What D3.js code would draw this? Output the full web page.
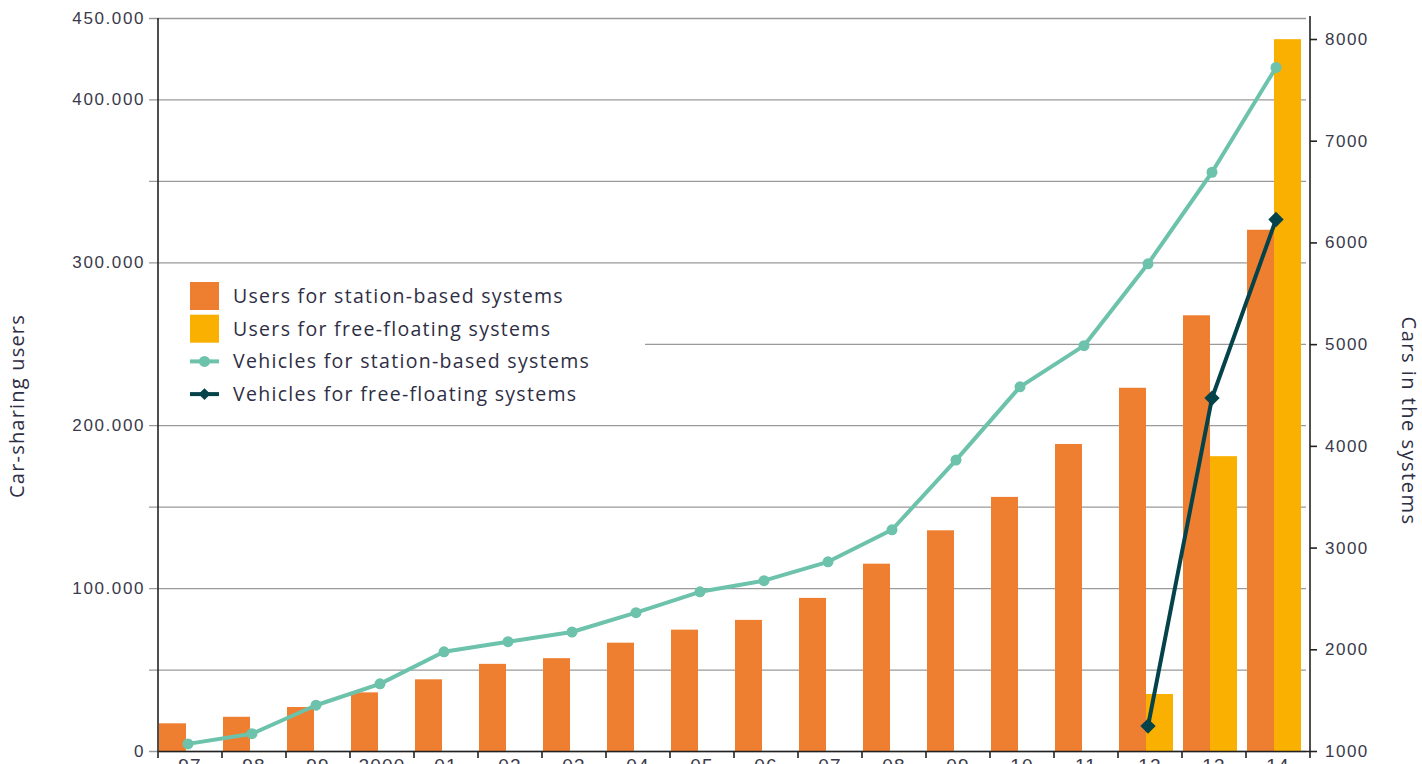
<!DOCTYPE html>
<html>
<head>
<meta charset="utf-8">
<script src="https://cdn.jsdelivr.net/npm/d3@7"></script>
<style>
  body { margin: 0; background: #fff; }
  svg { display: block; font-family: "Open Sans", sans-serif; }
  .axis text { fill: #3a3a4a; }
</style>
</head>
<body>
<svg id="chart"></svg>
<script>
// chart data
const years = ['97', '98', '99', '2000', '01', '02', '03', '04', '05', '06', '07', '08', '09', '10', '11', '12', '13', '14'];
const usersStation = [17000, 21000, 27000, 36000, 44000, 53500, 57000, 66500, 74500, 80500, 94000, 115000, 135500, 156000, 188500, 223000, 267500, 320000];
const usersFree = [null, null, null, null, null, null, null, null, null, null, null, null, null, null, null, 35000, 181000, 437000];
const carsStation = [1070, 1170, 1450, 1660, 1975, 2075, 2170, 2360, 2565, 2675, 2860, 3175, 3860, 4580, 4985, 5790, 6690, 7720];
const carsFree = [null, null, null, null, null, null, null, null, null, null, null, null, null, null, null, 1245, 4470, 6225];
const leftTicks = [0, 50000, 100000, 150000, 200000, 250000, 300000, 350000, 400000, 450000];
const leftLabelled = [0, 100000, 200000, 300000, 400000, 450000];
const rightTicks = [1000, 2000, 3000, 4000, 5000, 6000, 7000, 8000];
const legendItems = [
    {label: 'Users for station-based systems', type: 'bar', color: '#ee7f31'},
    {label: 'Users for free-floating systems', type: 'bar', color: '#f9b000'},
    {label: 'Vehicles for station-based systems', type: 'circle', color: '#6cc2ab'},
    {label: 'Vehicles for free-floating systems', type: 'diamond', color: '#05434a'}
];

const width = 1422, height = 764;
const margin = {top: 18, right: 112, bottom: 13, left: 158};
const innerW = width - margin.left - margin.right;
const innerH = height - margin.top - margin.bottom;

const svg = d3.select('#chart')
    .attr('width', width)
    .attr('height', height);

const chart = svg.append('g')
    .attr('transform', `translate(${margin.left},${margin.top})`);

const xScale = d3.scaleBand()
    .domain(years)
    .range([0, innerW])
    .padding(0);

const yLeft = d3.scaleLinear()
    .domain([0, 450000])
    .range([innerH, 0]);

// right axis: 1000 at bottom, 8000 near top
const yRight = d3.scaleLinear()
    .domain([1000, 8000])
    .range([innerH, 21]);

const dotFormat = d3.formatLocale({decimal: ',', thousands: '.', grouping: [3], currency: ['', '']}).format(',');

// left axis with gridlines
const leftAxis = d3.axisLeft(yLeft)
    .tickValues(leftTicks)
    .tickSize(-(innerW - 4))
    .tickPadding(13)
    .tickFormat(d => leftLabelled.includes(d) ? dotFormat(d) : '');

const leftG = chart.append('g')
    .attr('class', 'axis y-axis')
    .call(leftAxis);
leftG.select('.domain').remove();
leftG.selectAll('.tick line')
    .attr('x1', -9)
    .attr('stroke', '#9a9a9a')
    .attr('stroke-width', 1.3);
leftG.selectAll('.tick text')
    .attr('font-size', 17)
    .attr('letter-spacing', 1.6);

// bars
const barW = 27;
chart.append('g').selectAll('rect.station')
    .data(years)
    .join('rect')
    .attr('class', 'station')
    .attr('x', d => xScale(d) + 1)
    .attr('y', (d, i) => yLeft(usersStation[i]))
    .attr('width', barW)
    .attr('height', (d, i) => innerH - yLeft(usersStation[i]))
    .attr('fill', '#ee7f31');

chart.append('g').selectAll('rect.free')
    .data(years.filter((d, i) => usersFree[i] !== null))
    .join('rect')
    .attr('class', 'free')
    .attr('x', d => xScale(d) + 1 + barW)
    .attr('y', d => yLeft(usersFree[years.indexOf(d)]))
    .attr('width', barW)
    .attr('height', d => innerH - yLeft(usersFree[years.indexOf(d)]))
    .attr('fill', '#f9b000');

// legend box hides part of a gridline
const legend = chart.append('g');
legend.append('rect')
    .attr('x', -9)
    .attr('y', 272 - margin.top)
    .attr('width', 645 - margin.left + 9)
    .attr('height', 140)
    .attr('fill', '#fff');

const legendRow = legend.selectAll('g.item')
    .data(legendItems)
    .join('g')
    .attr('class', 'item')
    .attr('transform', (d, i) => `translate(${190 - margin.left},${282 - margin.top + i * 32.7})`);

legendRow.filter(d => d.type === 'bar')
    .append('rect')
    .attr('width', 29)
    .attr('height', 28)
    .attr('fill', d => d.color);

legendRow.filter(d => d.type !== 'bar')
    .append('line')
    .attr('x1', 0).attr('x2', 29)
    .attr('y1', 14).attr('y2', 14)
    .attr('stroke', d => d.color)
    .attr('stroke-width', 4);

legendRow.filter(d => d.type === 'circle')
    .append('circle')
    .attr('cx', 14.5).attr('cy', 14)
    .attr('r', 5.5)
    .attr('fill', d => d.color);

legendRow.filter(d => d.type === 'diamond')
    .append('path')
    .attr('d', d3.symbol(d3.symbolDiamond2, 90))
    .attr('transform', 'translate(14.5,14)')
    .attr('fill', d => d.color);

legendRow.append('text')
    .attr('x', 43)
    .attr('y', 14)
    .attr('dy', '0.35em')
    .attr('font-size', 19.5)
    .attr('letter-spacing', 1.3)
    .attr('fill', '#2e2e44')
    .text(d => d.label);

// lines
const xCenter = d => xScale(d) + xScale.bandwidth() / 2 - 2;

const lineStation = d3.line()
    .x((d, i) => xCenter(years[i]))
    .y(d => yRight(d));

chart.append('path')
    .datum(carsStation)
    .attr('fill', 'none')
    .attr('stroke', '#6cc2ab')
    .attr('stroke-width', 4)
    .attr('stroke-linejoin', 'round')
    .attr('d', lineStation);

chart.append('g').selectAll('circle')
    .data(carsStation)
    .join('circle')
    .attr('cx', (d, i) => xCenter(years[i]))
    .attr('cy', d => yRight(d))
    .attr('r', 5.5)
    .attr('fill', '#6cc2ab');

const freePts = years.map((y, i) => ({y, v: carsFree[i]})).filter(d => d.v !== null);

chart.append('path')
    .datum(freePts)
    .attr('fill', 'none')
    .attr('stroke', '#05434a')
    .attr('stroke-width', 4)
    .attr('d', d3.line().x(d => xCenter(d.y)).y(d => yRight(d.v)));

chart.append('g').selectAll('path.dia')
    .data(freePts)
    .join('path')
    .attr('class', 'dia')
    .attr('d', d3.symbol(d3.symbolDiamond2, 150))
    .attr('transform', d => `translate(${xCenter(d.y)},${yRight(d.v)})`)
    .attr('fill', '#05434a');

// left axis line
chart.append('line')
    .attr('x1', 0).attr('x2', 0)
    .attr('y1', 0).attr('y2', innerH)
    .attr('stroke', '#222')
    .attr('stroke-width', 1.6);

// bottom axis, labels run off the lower edge as in the source
const xAxis = d3.axisBottom(xScale)
    .tickSize(0)
    .tickPadding(8);
const xG = chart.append('g')
    .attr('class', 'axis x-axis')
    .attr('transform', `translate(0,${innerH})`)
    .call(xAxis);
xG.select('.domain')
    .attr('stroke', '#222')
    .attr('stroke-width', 1.6);
xG.selectAll('.tick text')
    .attr('font-size', 19)
    .attr('letter-spacing', 1.2);
xG.selectAll('line.boundary')
    .data(years.concat(['end']))
    .join('line')
    .attr('class', 'boundary')
    .attr('x1', d => d === 'end' ? innerW : xScale(d))
    .attr('x2', d => d === 'end' ? innerW : xScale(d))
    .attr('y1', 0).attr('y2', 7)
    .attr('stroke', '#222')
    .attr('stroke-width', 1.6);

// right axis
const rightAxis = d3.axisRight(yRight)
    .tickValues(rightTicks)
    .tickSize(7)
    .tickPadding(8)
    .tickFormat(d3.format('d'));
const rightG = chart.append('g')
    .attr('class', 'axis y-axis-right')
    .attr('transform', `translate(${innerW},0)`)
    .call(rightAxis);
rightG.select('.domain')
    .attr('d', `M0,-2V${innerH}`)
    .attr('stroke', '#222')
    .attr('stroke-width', 1.6);
rightG.selectAll('.tick line')
    .attr('stroke', '#222')
    .attr('stroke-width', 1.6);
rightG.selectAll('.tick text')
    .attr('font-size', 17)
    .attr('letter-spacing', 1.5);

// axis titles
svg.append('text')
    .attr('transform', 'translate(24,406) rotate(-90)')
    .attr('text-anchor', 'middle')
    .attr('font-size', 20)
    .attr('letter-spacing', 1.2)
    .attr('fill', '#2e2e44')
    .text('Car-sharing users');

svg.append('text')
    .attr('transform', 'translate(1402,421) rotate(90)')
    .attr('text-anchor', 'middle')
    .attr('font-size', 20)
    .attr('letter-spacing', 1.5)
    .attr('fill', '#2e2e44')
    .text('Cars in the systems');
</script>
</body>
</html>
